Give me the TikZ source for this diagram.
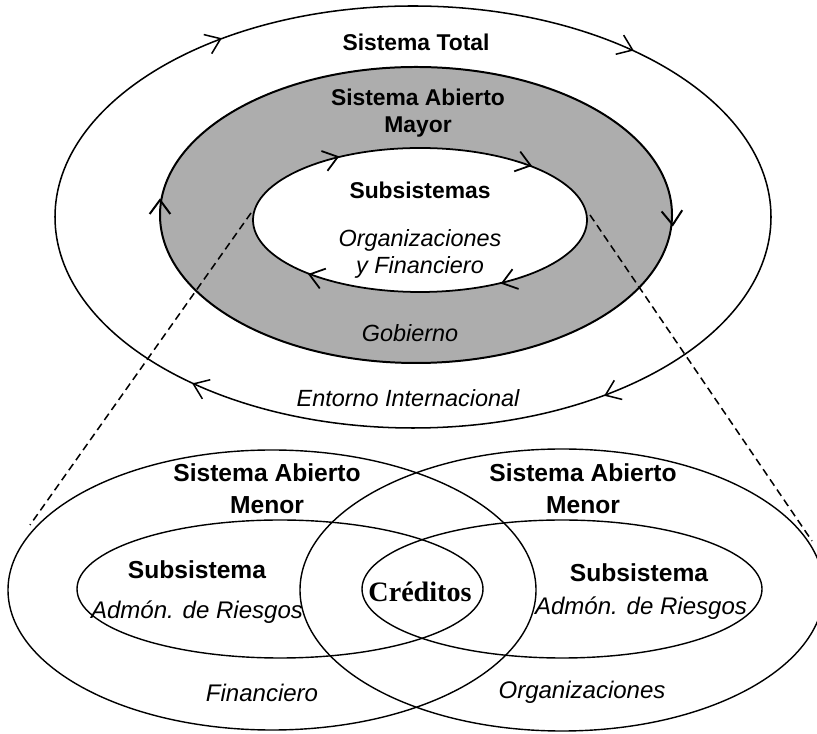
\documentclass[tikz,border=0pt]{standalone}
\usepackage{fontspec}
\setmainfont{Liberation Sans}
\newfontfamily\credfont{Liberation Serif}
\usetikzlibrary{arrows.meta,decorations.markings}

\definecolor{ringgray}{gray}{0.68}

\begin{document}
\begin{tikzpicture}[
  x=0.03cm, y=0.03cm,
  >={Straight Barb[length=0.42cm,width=0.62cm]},
  orbit/.style={line width=1.3pt, postaction={decorate}},
  venn/.style={line width=1.2pt},
  zoomline/.style={line width=1.3pt, dash pattern=on 6.5pt off 4pt},
  toptitle/.style={font=\fontsize{19.5}{23}\selectfont\bfseries, align=center},
  topitem/.style={font=\fontsize{20}{23}\selectfont\itshape, align=center},
  lowtitle/.style={font=\fontsize{21}{27}\selectfont\bfseries, align=center},
  lowitem/.style={font=\fontsize{20.5}{24}\selectfont\itshape, align=center}
]
  \useasboundingbox (0,0) rectangle (817,734);

  % Sistema total with its ring
  \fill[ringgray] (416,519) ellipse [x radius=256, y radius=148];
  \fill[white] (420,514) ellipse [x radius=167, y radius=72];
  \draw[orbit, decoration={markings,
      mark=at position 0.134 with {\arrow{<}},
      mark=at position 0.366 with {\arrow{<}},
      mark=at position 0.634 with {\arrow{<}},
      mark=at position 0.866 with {\arrow{<}}}]
    (413,517) ellipse [x radius=358, y radius=211];
  \draw[orbit, line width=1.7pt, decoration={markings,
      mark=at position 0.004 with {\arrow{<}},
      mark=at position 0.5 with {\arrow{<}}}]
    (416,519) ellipse [x radius=256, y radius=148];
  \draw[orbit, line width=1.5pt, decoration={markings,
      mark=at position 0.125 with {\arrow{<}},
      mark=at position 0.375 with {\arrow{<}},
      mark=at position 0.625 with {\arrow{<}},
      mark=at position 0.875 with {\arrow{<}}}]
    (420,514) ellipse [x radius=167, y radius=72];

  \node[toptitle] (total) at (416,692) {Sistema Total};
  \node[toptitle] (mayor) at (418,621) {Sistema Abierto\\Mayor};
  \node[toptitle] (subs) at (420,544) {Subsistemas};
  \node[topitem] (orgfin) at (420,480) {Organizaciones\\y Financiero};
  \node[topitem] (gob) at (410,401) {Gobierno};
  \node[topitem] (entorno) at (408,336) {Entorno Internacional};

  % Sistemas menores
  \draw[venn] (272,144) ellipse [x radius=264, y radius=140];
  \draw[venn] (562,144) ellipse [x radius=262, y radius=141];
  \draw[venn] (280,145) ellipse [x radius=203, y radius=69];
  \draw[venn] (562,145) ellipse [x radius=200, y radius=69];

  \node[lowtitle] (menorL) at (267,245) {Sistema Abierto\\Menor};
  \node[lowtitle] (menorR) at (583,245) {Sistema Abierto\\Menor};
  \node[lowtitle] (subL) at (197,164) {Subsistema};
  \node[lowitem] (riesgoL) at (197,122) {Admón. de Riesgos};
  \node[lowtitle] (subR) at (639,161) {Subsistema};
  \node[lowitem] (riesgoR) at (641,126) {Admón. de Riesgos};
  \node[font=\credfont\fontsize{24}{28}\selectfont\bfseries] (cred) at (420,142) {Créditos};
  \node[lowitem] (fin) at (262,41) {Financiero};
  \node[lowitem] (org) at (582,42) {Organizaciones};

  % Zoom lines
  \coordinate (zoomLa) at (251,521);
  \coordinate (zoomLb) at (30,209);
  \coordinate (zoomRa) at (590,519);
  \coordinate (zoomRb) at (812,193);
  \draw[zoomline] (zoomLa) -- (zoomLb);
  \draw[zoomline] (zoomRa) -- (zoomRb);
\end{tikzpicture}
\end{document}
